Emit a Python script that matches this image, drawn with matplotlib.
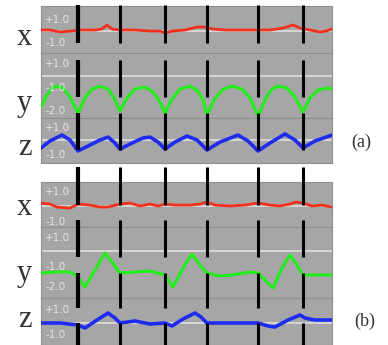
import matplotlib
matplotlib.use('Agg')
import matplotlib.pyplot as plt

W, H = 388, 345

# time in samples, 0 = left edge of the panels
events = [37, 79, 124, 166, 217, 262]

# (a) walking-like periodic motion
red_a_t = [0, 9, 19, 29, 39, 54, 61, 66, 71, 79, 94, 109, 119, 124, 131, 144, 156, 164, 171, 184, 199, 217, 229, 242, 252, 259, 269, 279, 285, 291]
red_a = [0.13, 0.13, -0.04, 0.04, 0.13, 0.13, 0.22, 0.57, 0.22, 0.13, 0.13, 0.04, 0.04, -0.13, 0.04, 0.13, 0.39, 0.39, 0.22, 0.13, 0.13, 0.13, 0.13, 0.30, 0.57, 0.30, 0.13, -0.04, 0.04, 0.22]

green_a_t = [0, 6, 11, 16, 22, 29, 37, 44, 51, 59, 67, 73, 79, 86, 94, 104, 112, 118, 124, 131, 139, 149, 157, 162, 166, 173, 181, 191, 201, 209, 217, 224, 229, 236, 246, 254, 262, 269, 277, 286, 291]
green_a = [-1.86, -1.32, -1.00, -0.91, -1.00, -1.41, -2.14, -1.45, -1.05, -0.91, -1.05, -1.45, -2.05, -1.45, -1.05, -0.95, -1.18, -1.55, -2.14, -1.50, -1.05, -0.91, -1.14, -1.55, -2.23, -1.55, -1.09, -0.91, -1.05, -1.45, -2.27, -1.55, -1.14, -0.91, -1.00, -1.41, -2.09, -1.45, -1.09, -1.00, -1.05]

blue_a_t = [0, 9, 21, 29, 37, 49, 59, 67, 73, 79, 91, 102, 109, 117, 124, 134, 146, 156, 166, 179, 197, 207, 217, 229, 244, 254, 262, 274, 291]
blue_a = [-0.48, 0.04, 0.48, 0.11, -0.70, -0.26, 0.11, 0.33, -0.04, -0.56, -0.11, 0.26, 0.33, -0.04, -0.56, -0.04, 0.41, 0.11, -0.63, -0.04, 0.48, 0.04, -0.70, -0.11, 0.56, 0.11, -0.48, 0.04, 0.48]

# (b) isolated gestures
red_b_t = [0, 9, 16, 29, 37, 49, 59, 67, 79, 89, 99, 109, 117, 124, 134, 149, 159, 166, 174, 189, 204, 217, 229, 239, 249, 255, 262, 271, 281, 291]
red_b = [0.27, 0.20, 0.00, -0.07, 0.20, 0.13, 0.00, 0.00, 0.20, 0.27, 0.07, 0.20, 0.07, 0.20, 0.13, 0.13, 0.20, 0.33, 0.13, 0.07, 0.13, 0.27, 0.13, 0.07, 0.20, 0.33, 0.27, 0.07, 0.13, 0.00]

green_b_t = [0, 14, 29, 37, 44, 54, 64, 71, 79, 94, 109, 124, 132, 142, 151, 159, 166, 179, 191, 209, 217, 225, 232, 241, 249, 256, 262, 274, 291]
green_b = [-1.30, -1.25, -1.25, -1.50, -2.00, -1.15, -0.30, -0.75, -1.30, -1.25, -1.20, -1.40, -2.00, -1.05, -0.35, -0.90, -1.30, -1.45, -1.40, -1.25, -1.30, -1.70, -2.05, -1.05, -0.40, -0.90, -1.40, -1.40, -1.40]

blue_b_t = [0, 19, 37, 44, 56, 67, 74, 79, 94, 109, 124, 131, 142, 154, 160, 166, 184, 204, 217, 227, 234, 247, 259, 264, 274, 291]
blue_b = [-0.04, -0.04, -0.20, -0.44, 0.20, 0.76, 0.36, -0.04, 0.12, -0.12, -0.04, -0.28, 0.28, 0.76, 0.44, -0.04, -0.04, -0.04, -0.04, -0.28, -0.36, 0.20, 0.60, 0.36, 0.20, 0.20]

tick_a = [['+1.0', '-1.0'], ['+1.0', '-1.0', '-2.0'], ['+1.0', '-1.0']]
tick_a_y = [[20, 43], [64, 88, 111], [128, 155]]
tick_b = [['+1.0', '-1.0'], ['+1.0', '-1.0', '-2.0'], ['+1.0', '-1.0']]
tick_b_y = [[192, 222], [238, 267, 287], [310, 335]]

fig = plt.figure(figsize=(W / 100, H / 100), dpi=100)
fig.patch.set_facecolor('white')

X0, X1 = 41, 332


def px_axes(y0, y1):
    return fig.add_axes([X0 / W, 1 - y1 / H, (X1 - X0) / W, (y1 - y0) / H])


def panel(ax, t, v, color, ylim, ref, lw):
    ax.set_facecolor('#a6a6a6')
    ax.set_xlim(0, X1 - X0)
    ax.set_ylim(*ylim)
    ax.axhline(ref, color='#d6d6d6', lw=1.4, zorder=1)
    ax.plot(t, v, color=color, lw=lw, zorder=3, solid_capstyle='round')
    ax.set_xticks([])
    ax.set_yticks([])
    for s in ax.spines.values():
        s.set_color('#8e8e8e')
        s.set_linewidth(0.8)


# (a)
ax = px_axes(6, 53)
panel(ax, red_a_t, red_a, '#f2301e', (-1.87, 2.22), 0.04, 2.0)
ax = px_axes(53, 118)
panel(ax, green_a_t, green_a, '#22ee1a', (-2.36, 0.59), -0.45, 2.2)
ax = px_axes(118, 163)
panel(ax, blue_a_t, blue_a, '#1e2cf0', (-1.59, 1.74), 0.11, 2.6)

# (b)
ax = px_axes(182, 227)
panel(ax, red_b_t, red_b, '#f2301e', (-1.33, 1.67), 0.1, 2.0)
ax = px_axes(227, 298)
panel(ax, green_b_t, green_b, '#22ee1a', (-2.55, 1.0), -0.2, 2.2)
ax = px_axes(298, 345)
panel(ax, blue_b_t, blue_b, '#1e2cf0', (-1.8, 1.96), 0.0, 2.6)

# event markers on top of everything
ov = fig.add_axes([X0 / W, 0, (X1 - X0) / W, 1])
ov.set_xlim(0, X1 - X0)
ov.set_ylim(H, 0)
ov.axis('off')
segs = [(5, 43), (60, 97), (113, 150), (167, 205), (220, 257), (273, 308), (323, 345)]
for i, e in enumerate(events):
    for s0, s1 in segs:
        ov.plot([e, e], [s0, s1], color='black', lw=3.0 if i == 0 else 2.2,
                solid_capstyle='butt', zorder=5)


def ptext(x, y, s, **kw):
    fig.text(x / W, 1 - y / H, s, **kw)


for labels, ys in [(tick_a, tick_a_y), (tick_b, tick_b_y)]:
    for lab_row, y_row in zip(labels, ys):
        for lab, y in zip(lab_row, y_row):
            ptext(45, y, lab, color='#e4e4e4', fontsize=7.5, va='center', ha='left',
                  family='DejaVu Sans', zorder=4)

serif = dict(family='Liberation Serif', color='#333333', fontsize=22, ha='left', va='baseline')
ptext(17, 45, 'x', **serif)
ptext(17, 111, 'y', **serif)
ptext(18, 155, 'z', **serif)
ptext(17, 215, 'x', **serif)
ptext(17, 281, 'y', **serif)
ptext(18, 327, 'z', **serif)

ptext(351, 147, '(a)', family='Liberation Serif', color='#333333', fontsize=13, va='baseline')
ptext(354, 326, '(b)', family='Liberation Serif', color='#333333', fontsize=13, va='baseline')

plt.savefig('out.png', dpi=100)
